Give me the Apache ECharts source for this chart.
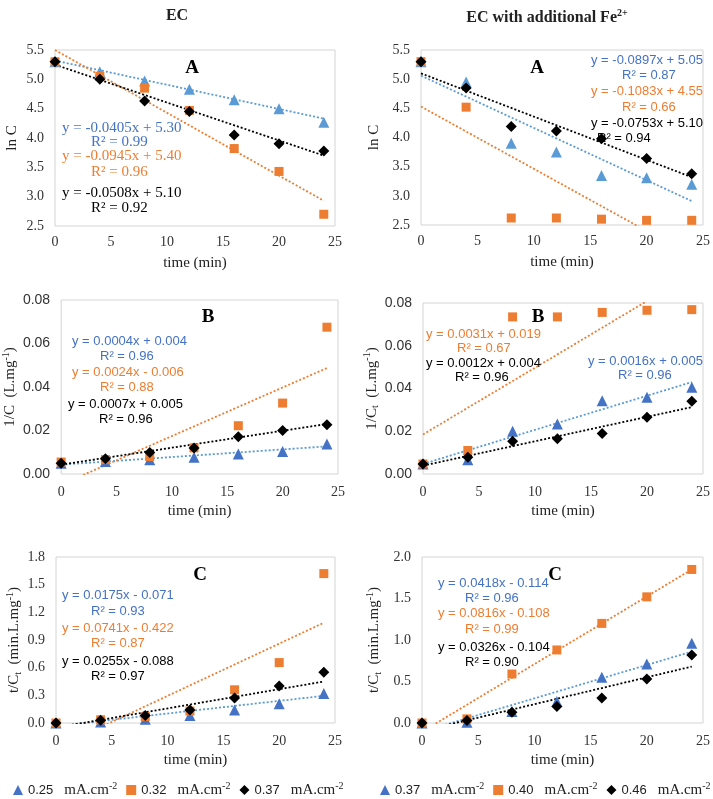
<!DOCTYPE html>
<html><head><meta charset="utf-8">
<script src="https://cdn.jsdelivr.net/npm/echarts@6/dist/echarts.min.js"></script>
<style>html,body{margin:0;padding:0;background:#fff}#c{width:713px;height:799px}</style>
</head><body><div id="c"></div>
<script>
// ---- data ----
const time = [0, 4, 8, 12, 16, 20, 24];
const trendX = [0, 24];
const xTicks = [0, 5, 10, 15, 20, 25];

// Panel A (ln C) - EC
const aL_blue   = [5.30, 5.13, 4.97, 4.83, 4.65, 4.50, 4.27];
const aL_orange = [5.30, 5.05, 4.85, 4.47, 3.82, 3.43, 2.70];
const aL_black  = [5.30, 5.00, 4.63, 4.45, 4.05, 3.90, 3.78];
const aL_trendBlue = [5.32, 4.33];
const aL_trendOrange = [5.50, 2.93];
const aL_trendBlack = [5.25, 3.70];
// Panel A - EC with Fe2+
const aR_blue   = [5.30, 4.95, 3.90, 3.75, 3.35, 3.31, 3.20];
const aR_orange = [5.30, 4.52, 2.62, 2.62, 2.60, 2.58, 2.58];
const aR_black  = [5.30, 4.85, 4.19, 4.11, 3.98, 3.64, 3.38];
const aR_trendBlue = [5.06, 2.91];
const aR_trendOrange = [4.53, 1.97];
const aR_trendBlack = [5.10, 3.32];
// Panel B (1/C)
const bL_blue   = [0.0050, 0.0058, 0.0066, 0.0077, 0.0092, 0.0104, 0.0138];
const bL_orange = [0.0055, 0.0066, 0.0080, 0.0120, 0.0222, 0.0326, 0.0675];
const bL_black  = [0.0050, 0.0070, 0.0099, 0.0120, 0.0171, 0.0200, 0.0226];
const bL_trendBlue = [0.0043, 0.0127];
const bL_trendOrange = [-0.0049, 0.0487];
const bL_trendBlack = [0.0043, 0.0230];
const bR_blue   = [0.0047, 0.0067, 0.0200, 0.0234, 0.0343, 0.0359, 0.0406];
const bR_orange = [0.0047, 0.0110, 0.0735, 0.0735, 0.0756, 0.0766, 0.0769];
const bR_black  = [0.0047, 0.0078, 0.0153, 0.0165, 0.0189, 0.0265, 0.0340];
const bR_trendBlue = [0.0047, 0.0430];
const bR_trendOrange = [0.0185, 0.0934];
const bR_trendBlack = [0.0039, 0.0313];
// Panel C (t/C)
const cL_blue   = [0.00, 0.01, 0.04, 0.08, 0.14, 0.21, 0.32];
const cL_orange = [0.00, 0.035, 0.07, 0.13, 0.36, 0.655, 1.62];
const cL_black  = [0.00, 0.03, 0.08, 0.14, 0.27, 0.40, 0.55];
const cL_trendBlue = [-0.034, 0.295];
const cL_trendOrange = [-0.272, 1.087];
const cL_trendBlack = [-0.050, 0.45];
const cR_blue   = [0.00, 0.01, 0.14, 0.26, 0.55, 0.71, 0.96];
const cR_orange = [0.00, 0.05, 0.59, 0.88, 1.20, 1.52, 1.85];
const cR_black  = [0.00, 0.03, 0.13, 0.20, 0.30, 0.53, 0.82];
const cR_trendBlue = [-0.105, 0.86];
const cR_trendOrange = [-0.106, 1.85];
const cR_trendBlack = [-0.097, 0.68];

const legendLeft = ['0.25', '0.32', '0.37'];
const legendRight = ['0.37', '0.40', '0.46'];

// ---- styling ----
const SERIF = '"Liberation Serif", "Times New Roman", serif';
const SANS = '"Liberation Sans", Arial, sans-serif';
const BLUE_LIGHT = '#5B9BD5', BLUE_DARK = '#4472C4', ORANGE = '#ED7D31', BLACK = '#000000';
const TXT_BLUE = '#4472C4';

const grids = [
  {left: 55,  top: 50,  width: 280, height: 176},
  {left: 421, top: 50,  width: 282, height: 175},
  {left: 60,  top: 300, width: 278, height: 174},
  {left: 423, top: 303, width: 280, height: 171},
  {left: 56,  top: 557, width: 279, height: 166},
  {left: 422, top: 557, width: 281, height: 166}
].map(g => Object.assign({show: true, borderColor: '#d4d4d4', borderWidth: 1, backgroundColor: '#fff'}, g));

const yCfg = [
  {min: 2.5, max: 5.5, interval: 0.5, dec: 1, name: 'ln C', gap: 34, lblFont: SERIF},
  {min: 2.5, max: 5.5, interval: 0.5, dec: 1, name: 'ln C', gap: 38, lblFont: SERIF},
  {min: 0, max: 0.08, interval: 0.02, dec: 2, name: '1/C  (L.mg{sup|-1})', gap: 38, lblFont: SANS},
  {min: 0, max: 0.08, interval: 0.02, dec: 2, name: '1/C{sub|t}  (L.mg{sup|-1})', gap: 40, lblFont: SANS},
  {min: 0, max: 1.8, interval: 0.3, dec: 1, name: 't/C{sub|t}  (min.L.mg{sup|-1})', gap: 33, lblFont: SERIF},
  {min: 0, max: 2.0, interval: 0.5, dec: 1, name: 't/C{sub|t}  (min.L.mg{sup|-1})', gap: 39, lblFont: SERIF}
];
const xMargins = [9, 9, 11, 11, 11, 11];

const xAxis = grids.map((g, i) => ({
  type: 'value', gridIndex: i, min: xTicks[0], max: xTicks[xTicks.length - 1], interval: xTicks[1] - xTicks[0],
  axisLine: {show: false}, axisTick: {show: false}, splitLine: {show: false},
  axisLabel: {fontFamily: SERIF, fontSize: 14, color: '#333', margin: xMargins[i]},
  name: 'time (min)', nameLocation: 'middle', nameGap: 30,
  nameTextStyle: {fontFamily: SERIF, fontSize: 15, color: '#222'}
}));

const yAxis = yCfg.map((c, i) => ({
  type: 'value', gridIndex: i, min: c.min, max: c.max, interval: c.interval,
  axisLine: {show: false}, axisTick: {show: false}, splitLine: {show: false},
  axisLabel: {fontFamily: c.lblFont, fontSize: 14, color: '#333', margin: 11,
    formatter: v => v.toFixed(c.dec)},
  name: c.name, nameLocation: 'middle', nameGap: c.gap, nameRotate: 90,
  nameTextStyle: {fontFamily: SERIF, fontSize: 15, color: '#222', lineHeight: 18,
    rich: {
      sup: {fontFamily: SERIF, fontSize: 10, verticalAlign: 'top', lineHeight: 10, color: '#222'},
      sub: {fontFamily: SERIF, fontSize: 10, verticalAlign: 'bottom', lineHeight: 10, color: '#222'}
    }}
}));

const panels = [
  {b: aL_blue, o: aL_orange, k: aL_black, tb: aL_trendBlue, to: aL_trendOrange, tk: aL_trendBlack, side: 'L', tri: BLUE_LIGHT},
  {b: aR_blue, o: aR_orange, k: aR_black, tb: aR_trendBlue, to: aR_trendOrange, tk: aR_trendBlack, side: 'R', tri: BLUE_LIGHT},
  {b: bL_blue, o: bL_orange, k: bL_black, tb: bL_trendBlue, to: bL_trendOrange, tk: bL_trendBlack, side: 'L', tri: BLUE_DARK},
  {b: bR_blue, o: bR_orange, k: bR_black, tb: bR_trendBlue, to: bR_trendOrange, tk: bR_trendBlack, side: 'R', tri: BLUE_DARK},
  {b: cL_blue, o: cL_orange, k: cL_black, tb: cL_trendBlue, to: cL_trendOrange, tk: cL_trendBlack, side: 'L', tri: BLUE_DARK},
  {b: cR_blue, o: cR_orange, k: cR_black, tb: cR_trendBlue, to: cR_trendOrange, tk: cR_trendBlack, side: 'R', tri: BLUE_DARK}
];

const pair = arr => arr.map((v, j) => [time[j], v]);
const tpair = arr => arr.map((v, j) => [trendX[j], v]);

const series = [];
panels.forEach((p, i) => {
  const trend = (d, color) => ({
    type: 'line', name: 'trend', xAxisIndex: i, yAxisIndex: i, data: tpair(d),
    showSymbol: false, symbol: 'none', silent: true, clip: true, z: 1,
    lineStyle: {type: [2, 2], width: 1.8, color: color}
  });
  series.push(trend(p.tb, BLUE_LIGHT), trend(p.to, ORANGE), trend(p.tk, BLACK));
  const sc = (name, d, symbol, size, color) => ({
    type: 'scatter', name: name, xAxisIndex: i, yAxisIndex: i, data: pair(d),
    symbol: symbol, symbolSize: size, itemStyle: {color: color, opacity: 1}, z: 3
  });
  series.push(
    sc(p.side + '1', p.b, 'triangle', 11, p.tri),
    sc(p.side + '2', p.o, 'rect', 9, ORANGE),
    sc(p.side + '3', p.k, 'diamond', 11, BLACK)
  );
});

// annotation texts
function T(text, x, y, color, font, size, bold, align) {
  return {type: 'text', x: x, y: y, z: 10,
    style: {text: text, fill: color, font: (bold ? 'bold ' : '') + size + 'px ' + font,
      align: align || 'left', verticalAlign: 'middle'}};
}
const graphics = [
  // A left
  T('A', 192, 68, '#000', SERIF, 19, true, 'center'),
  T('y = -0.0405x + 5.30', 62, 128, TXT_BLUE, SERIF, 15),
  T('R\u00b2 = 0.99', 91, 142, TXT_BLUE, SERIF, 15),
  T('y = -0.0945x + 5.40', 62, 156, ORANGE, SERIF, 15),
  T('R\u00b2 = 0.96', 91, 172, ORANGE, SERIF, 15),
  T('y = -0.0508x + 5.10', 62, 193, '#000', SERIF, 15),
  T('R\u00b2 = 0.92', 91, 208, '#000', SERIF, 15),
  // A right
  T('A', 537, 68, '#000', SERIF, 19, true, 'center'),
  T('y = -0.0897x + 5.05', 591, 60, TXT_BLUE, SANS, 13),
  T('R\u00b2 = 0.87', 622, 75, TXT_BLUE, SANS, 13),
  T('y = -0.1083x + 4.55', 591, 91, ORANGE, SANS, 13),
  T('R\u00b2 = 0.66', 622, 107, ORANGE, SANS, 13),
  T('y = -0.0753x + 5.10', 591, 123, '#000', SANS, 13),
  T('R\u00b2 = 0.94', 597, 138, '#000', SANS, 13),
  // B left
  T('B', 208, 317, '#000', SERIF, 19, true, 'center'),
  T('y = 0.0004x + 0.004', 72, 341, TXT_BLUE, SANS, 13),
  T('R\u00b2 = 0.96', 100, 356, TXT_BLUE, SANS, 13),
  T('y = 0.0024x - 0.006', 72, 372, ORANGE, SANS, 13),
  T('R\u00b2 = 0.88', 100, 387, ORANGE, SANS, 13),
  T('y = 0.0007x + 0.005', 68, 404, '#000', SANS, 13),
  T('R\u00b2 = 0.96', 99, 419, '#000', SANS, 13),
  // B right
  T('B', 538, 317, '#000', SERIF, 19, true, 'center'),
  T('y = 0.0031x + 0.019', 426, 334, ORANGE, SANS, 13),
  T('R\u00b2 = 0.67', 457, 348, ORANGE, SANS, 13),
  T('y = 0.0012x + 0.004', 426, 363, '#000', SANS, 13),
  T('R\u00b2 = 0.96', 455, 377, '#000', SANS, 13),
  T('y = 0.0016x + 0.005', 588, 361, TXT_BLUE, SANS, 13),
  T('R\u00b2 = 0.96', 618, 375, TXT_BLUE, SANS, 13),
  // C left
  T('C', 200, 575, '#000', SERIF, 19, true, 'center'),
  T('y = 0.0175x - 0.071', 62, 595, TXT_BLUE, SANS, 13),
  T('R\u00b2 = 0.93', 91, 611, TXT_BLUE, SANS, 13),
  T('y = 0.0741x - 0.422', 62, 628, ORANGE, SANS, 13),
  T('R\u00b2 = 0.87', 91, 643, ORANGE, SANS, 13),
  T('y = 0.0255x - 0.088', 62, 661, '#000', SANS, 13),
  T('R\u00b2 = 0.97', 91, 676, '#000', SANS, 13),
  // C right
  T('C', 555, 575, '#000', SERIF, 19, true, 'center'),
  T('y = 0.0418x - 0.114', 438, 583, TXT_BLUE, SANS, 13),
  T('R\u00b2 = 0.96', 465, 598, TXT_BLUE, SANS, 13),
  T('y = 0.0816x - 0.108', 438, 613, ORANGE, SANS, 13),
  T('R\u00b2 = 0.99', 465, 629, ORANGE, SANS, 13),
  T('y = 0.0326x - 0.104', 438, 647, '#000', SANS, 13),
  T('R\u00b2 = 0.90', 465, 662, '#000', SANS, 13)
];

const legRich = {
  n: {fontFamily: SANS, fontSize: 13, color: '#222', lineHeight: 18, padding: [0, 11, 0, 0]},
  u: {fontFamily: SERIF, fontSize: 15, color: '#222', lineHeight: 18},
  sup: {fontFamily: SERIF, fontSize: 10, color: '#222', verticalAlign: 'top', lineHeight: 10}
};
const legNames = {L1: legendLeft[0], L2: legendLeft[1], L3: legendLeft[2],
                  R1: legendRight[0], R2: legendRight[1], R3: legendRight[2]};
const mkLegend = (side, left) => ({
  left: left, top: 781, width: 345, padding: 0, itemGap: 9, itemWidth: 10, itemHeight: 10,
  data: [
    {name: side + '1', icon: 'triangle', itemStyle: {color: BLUE_DARK}},
    {name: side + '2', icon: 'rect', itemStyle: {color: ORANGE}},
    {name: side + '3', icon: 'diamond', itemStyle: {color: BLACK}}
  ],
  formatter: n => '{n|' + legNames[n] + '}{u|mA.cm}{sup|-2}',
  textStyle: {rich: legRich}, selectedMode: false
});

const option = {
  animation: false,
  backgroundColor: '#fff',
  title: [
    {text: 'EC', left: 172, top: 3, textAlign: 'center',
      textStyle: {fontFamily: SERIF, fontWeight: 'bold', fontSize: 16, color: '#222'}},
    {text: 'EC with additional Fe{sup|2+}', left: 542, top: 3, textAlign: 'center',
      textStyle: {fontFamily: SERIF, fontWeight: 'bold', fontSize: 16, color: '#222', lineHeight: 20,
        rich: {sup: {fontFamily: SERIF, fontWeight: 'bold', fontSize: 10, verticalAlign: 'top', lineHeight: 10, color: '#222'}}}}
  ],
  legend: [mkLegend('L', 13), mkLegend('R', 380)],
  grid: grids, xAxis: xAxis, yAxis: yAxis, series: series, graphic: graphics
};

const chart = echarts.init(document.getElementById('c'), null, {renderer: 'canvas'});
chart.setOption(option);
</script></body></html>
